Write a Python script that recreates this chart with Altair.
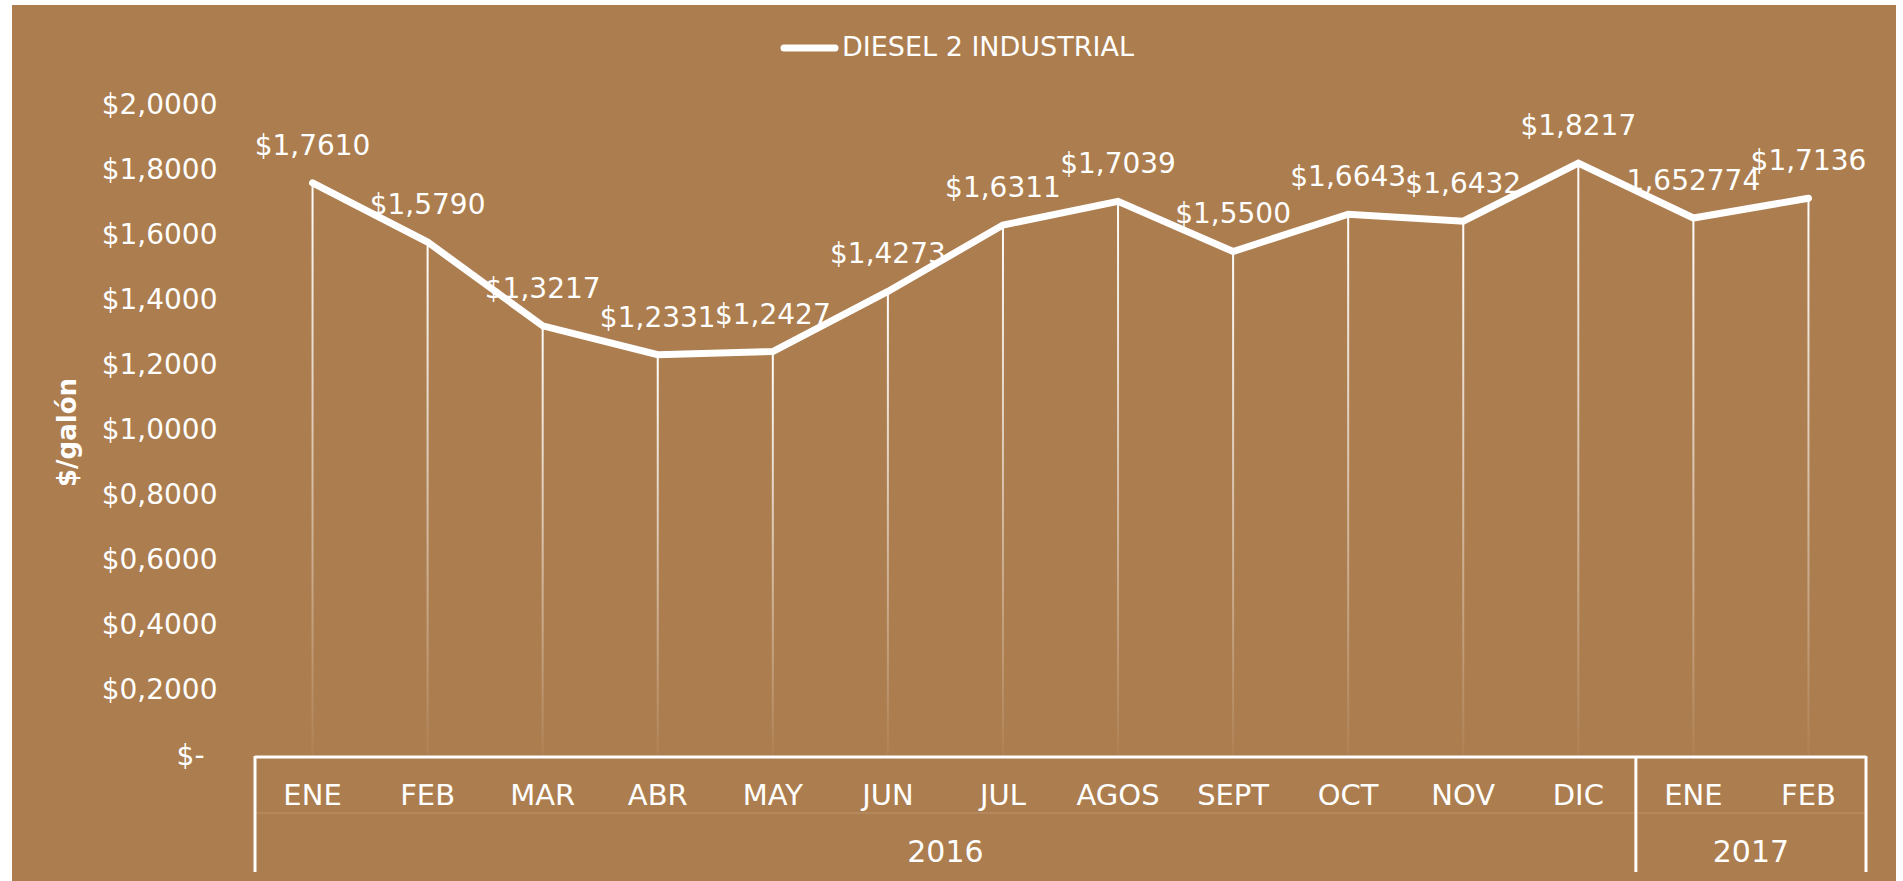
import altair as alt
import pandas as pd

# ---- data ----
months = ["ENE", "FEB", "MAR", "ABR", "MAY", "JUN", "JUL", "AGOS", "SEPT", "OCT", "NOV", "DIC", "ENE", "FEB"]
years = ["2016"] * 12 + ["2017"] * 2
values = [1.7610, 1.5790, 1.3217, 1.2331, 1.2427, 1.4273, 1.6311, 1.7039, 1.5500, 1.6643, 1.6432, 1.8217, 1.652774, 1.7136]
value_labels = ["$1,7610", "$1,5790", "$1,3217", "$1,2331", "$1,2427", "$1,4273", "$1,6311", "$1,7039",
                "$1,5500", "$1,6643", "$1,6432", "$1,8217", "1,652774", "$1,7136"]
y_ticks = [0, 0.2, 0.4, 0.6, 0.8, 1.0, 1.2, 1.4, 1.6, 1.8, 2.0]
year_names = ["2016", "2017"]
year_anchor = ["2016-JUN", "2017-ENE"]  # the group centre lies on the right edge of these bands
series_name = "DIESEL 2 INDUSTRIAL"

keys = [f"{y}-{m}" for y, m in zip(years, months)]
df = pd.DataFrame({"key": keys, "month": months, "year": years, "value": values, "label": value_labels})
df_years = pd.DataFrame({"year": year_names, "anchor": year_anchor})

# ---- layout / style ----
W, H = 1611, 651
BG = "#AC7D4E"
FONT = "DejaVu Sans"
WHITE = "white"

xscale = alt.Scale(domain=keys, paddingInner=0, paddingOuter=0)
X = alt.X("key:N", sort=keys, scale=xscale, axis=None)
Y = alt.Y(
    "value:Q",
    scale=alt.Scale(domain=[0, 2]),
    axis=alt.Axis(
        values=y_ticks,
        labelExpr="datum.value == 0 ? '$-' : '$' + replace(format(datum.value, '.4f'), '.', ',')",
        labelFont=FONT, labelFontSize=28, labelColor=WHITE,
        labelPadding={"condition": {"test": "datum.value == 0", "value": 51}, "value": 38},
        domain=False, ticks=False, grid=False, zindex=1,
        title="$/galón", titleFont=FONT, titleFontSize=26, titleFontWeight="bold", titleColor=WHITE,
        titleAngle=270, titleX=-188, titleY=327, titleAlign="center", titleBaseline="middle",
    ),
)

one = alt.Data(values=[{}])

background = alt.Chart(one).mark_rect(color=BG).encode(
    x=alt.value(-243), x2=alt.value(1641), y=alt.value(-100), y2=alt.value(790)
)

base = alt.Chart(df)

drops = base.mark_bar(
    size=2,
    fill=alt.LinearGradient(
        gradient="linear",
        stops=[alt.GradientStop(color="rgba(255,255,255,1)", offset=0),
               alt.GradientStop(color="rgba(255,255,255,0.04)", offset=1)],
        x1=0, x2=0, y1=0, y2=1,
    ),
).encode(x=X, y=Y)

line = base.mark_line(color=WHITE, strokeWidth=7, strokeCap="round", strokeJoin="miter").encode(x=X, y=Y)

labels = base.mark_text(dy=-36, font=FONT, fontSize=28, color=WHITE, align="center", baseline="middle").encode(
    x=X, y=Y, text="label:N"
)

# category axis drawn as a bracket table
axis_line = alt.Chart(one).mark_rule(color=WHITE, strokeWidth=3).encode(
    x=alt.value(0), x2=alt.value(W), y=alt.value(H + 1)
)
mid_line = alt.Chart(one).mark_rule(color=WHITE, strokeWidth=1.5, opacity=0.12).encode(
    x=alt.value(0), x2=alt.value(W), y=alt.value(708)
)
left_edges = alt.Chart(pd.DataFrame({"key": ["2016-ENE", "2017-ENE"]})).mark_rule(
    color=WHITE, strokeWidth=3
).encode(x=alt.X("key:N", sort=keys, scale=xscale, axis=None, bandPosition=0),
         y=alt.value(H), y2=alt.value(767))
right_edge = alt.Chart(pd.DataFrame({"key": ["2017-FEB"]})).mark_rule(
    color=WHITE, strokeWidth=3
).encode(x=alt.X("key:N", sort=keys, scale=xscale, axis=None, bandPosition=1),
         y=alt.value(H), y2=alt.value(767))

month_text = base.mark_text(font=FONT, fontSize=29, color=WHITE, align="center", baseline="middle").encode(
    x=X, y=alt.value(690.5), text="month:N"
)
year_text = alt.Chart(df_years).mark_text(font=FONT, fontSize=30, color=WHITE, align="center",
                                          baseline="middle").encode(
    x=alt.X("anchor:N", sort=keys, scale=xscale, axis=None, bandPosition=1),
    y=alt.value(748), text="year:N"
)

# legend
legend_line = alt.Chart(one).mark_rule(color=WHITE, strokeWidth=7, strokeCap="round").encode(
    x=alt.value(529), x2=alt.value(580), y=alt.value(-57)
)
legend_text = alt.Chart(one).mark_text(font=FONT, fontSize=27, color=WHITE, align="left",
                                       baseline="middle").encode(
    x=alt.value(587), y=alt.value(-57), text=alt.value(series_name)
)

chart = alt.layer(
    background, drops, line, labels, axis_line, mid_line, left_edges, right_edge,
    month_text, year_text, legend_line, legend_text,
).properties(
    width=W, height=H,
    autosize=alt.AutoSizeParams(type="none"),
    padding={"left": 255, "top": 105, "right": 37, "bottom": 125},
    background="white",
).configure_view(stroke=None)

chart.save("out.html", embed_options={"renderer": "svg", "actions": False})
